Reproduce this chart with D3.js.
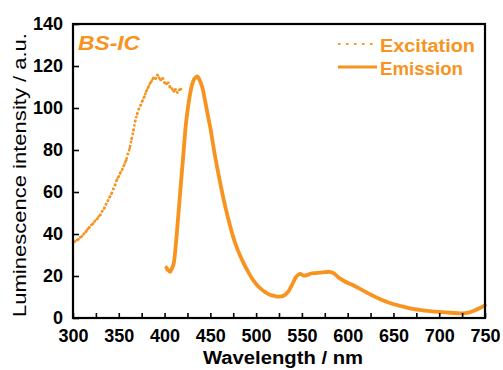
<!DOCTYPE html>
<html>
<head>
<meta charset="utf-8">
<script src="https://cdn.jsdelivr.net/npm/d3@7"></script>
<style>
  html, body { margin: 0; padding: 0; background: #fff; }
  svg { display: block; font-family: "Liberation Sans", Arial, sans-serif; }
</style>
</head>
<body>
<svg id="chart" width="503" height="370"></svg>
<script>
// Excitation spectrum (wavelength nm, intensity a.u.), sampled every 2 nm
const excitationWavelength = [300,302,304,306,308,310,312,314,316,318,320,322,324,326,328,330,332,334,336,338,
  340,342,344,346,348,350,352,354,356,358,360,362,364,366,368,370,372,374,376,378,
  380,382,384,386,388,390,392,394,396,398,400,402,404,406,408,410,412,414,416,418];
const excitationIntensity = [36.0,36.4,37.0,37.5,38.4,39.0,40.1,41.0,42.3,43.2,44.3,45.0,46.2,47.0,48.3,49.2,50.9,52.2,54.1,55.7,
  57.5,59.2,61.4,63.4,65.9,67.5,69.4,70.9,73.1,75.1,78.1,81.0,85.2,89.4,93.9,97.1,99.6,101.4,103.6,105.5,
  107.9,109.7,111.6,112.9,114.4,113.9,115.7,114.4,113.3,114.1,112.1,111.4,112.0,109.9,109.3,107.9,108.9,107.4,108.6,109.0];

// Emission spectrum (wavelength nm, intensity a.u.)
const emissionWavelength = [402,404,406,408,410,412,414,416,418,420,422,424,426,428,430,432,434,436,438,440,
  442,444,446,448,450,455,460,465,470,475,480,485,490,495,500,505,510,515,520,525,
  530,535,540,544,548,552,556,560,565,570,575,580,585,590,597,605,612,618,625,635,
  647,658,668,680,690,700,712,725,732,738,744,750];
const emissionIntensity = [24.0,22.8,22.0,23.5,26.0,33.5,43.5,54.0,65.0,75.0,86.0,95.0,101.5,107.0,111.0,113.5,114.5,115.0,113.5,111.5,
  108.5,104.0,99.5,95.0,90.5,77.5,66.0,55.5,46.5,38.5,32.3,27.3,23.0,19.2,16.2,14.0,12.3,11.1,10.5,10.2,
  10.6,12.5,16.5,19.8,21.0,20.2,20.5,21.2,21.4,21.6,21.8,22.0,21.3,19.3,17.4,15.8,14.2,12.8,11.2,9.0,
  7.0,5.7,4.6,3.8,3.3,2.9,2.5,2.2,2.6,3.5,4.6,6.0];

// Axis ticks and labels
const xTicks = d3.range(300, 751, 25);
const xTickLabels = [300,350,400,450,500,550,600,650,700,750];
const yTickLabels = [0,20,40,60,80,100,120,140];

const seriesNames = ["Excitation", "Emission"];
const sampleName = "BS-IC";

const orange = "#f7931e";
const svg = d3.select("#chart");

const x = d3.scaleLinear().domain([300, 750]).range([73, 485]);
const y = d3.scaleLinear().domain([0, 140]).range([318, 24]);

const line = d3.line().x(d => x(d[0])).y(d => y(d[1])).curve(d3.curveCatmullRom.alpha(0.5));

// Emission: solid line
const emission = emissionWavelength.map((w, i) => [w, emissionIntensity[i]]);
svg.append("path")
  .datum(emission)
  .attr("fill", "none")
  .attr("stroke", orange)
  .attr("stroke-width", 3.8)
  .attr("stroke-linejoin", "round")
  .attr("stroke-linecap", "round")
  .attr("d", line);

// Excitation: dotted trace plus sample points
const excitation = excitationWavelength.map((w, i) => [w, excitationIntensity[i]]);
svg.append("path")
  .datum(excitation)
  .attr("fill", "none")
  .attr("stroke", orange)
  .attr("stroke-width", 2.4)
  .attr("stroke-dasharray", "2.4,1.8")
  .attr("d", line);
svg.append("g")
  .selectAll("circle")
  .data(excitation)
  .join("circle")
  .attr("cx", d => x(d[0]))
  .attr("cy", d => y(d[1]))
  .attr("r", 1.3)
  .attr("fill", orange);

// Axes with inward ticks
const xAxis = d3.axisBottom(x)
  .tickValues(xTicks)
  .tickSizeInner(-5)
  .tickSizeOuter(0)
  .tickPadding(11.3)
  .tickFormat(d => xTickLabels.includes(d) ? d : "");
const gx = svg.append("g").attr("transform", "translate(0,318)").call(xAxis);

const yAxis = d3.axisLeft(y)
  .tickValues(yTickLabels)
  .tickSizeInner(-6)
  .tickSizeOuter(0)
  .tickPadding(10)
  .tickFormat(d3.format("d"));
const gy = svg.append("g").attr("transform", "translate(73,0)").call(yAxis);

[gx, gy].forEach(g => {
  g.select(".domain").remove();
  g.selectAll(".tick line").attr("stroke", "#000").attr("stroke-width", 1.6);
  g.selectAll(".tick text")
    .attr("fill", "#000")
    .style("font-size", "18px")
    .style("font-weight", "bold")
    .style("font-family", "'Liberation Sans', Arial, sans-serif");
});

// Frame
svg.append("rect")
  .attr("x", x(300)).attr("y", y(140))
  .attr("width", x(750) - x(300)).attr("height", y(0) - y(140))
  .attr("fill", "none")
  .attr("stroke", "#000")
  .attr("stroke-width", 2.2);

// Axis titles
svg.append("text")
  .attr("x", 283).attr("y", 364)
  .attr("text-anchor", "middle")
  .attr("textLength", 160).attr("lengthAdjust", "spacingAndGlyphs")
  .style("font-size", "18px").style("font-weight", "bold")
  .text("Wavelength / nm");

svg.append("text")
  .attr("transform", "translate(25.5,175) rotate(-90)")
  .attr("text-anchor", "middle")
  .attr("textLength", 284).attr("lengthAdjust", "spacingAndGlyphs")
  .style("font-size", "18px")
  .text("Luminescence intensity / a.u.");

// Sample label
svg.append("text")
  .attr("x", 78).attr("y", 50)
  .attr("textLength", 62).attr("lengthAdjust", "spacingAndGlyphs")
  .attr("fill", orange)
  .style("font-size", "19.5px").style("font-weight", "bold").style("font-style", "italic")
  .text(sampleName);

// Legend
const legend = svg.append("g");
legend.append("line")
  .attr("x1", 338).attr("x2", 377).attr("y1", 44).attr("y2", 44)
  .attr("stroke", orange).attr("stroke-width", 2)
  .attr("stroke-dasharray", "2.5,5.5");
legend.append("line")
  .attr("x1", 338).attr("x2", 377).attr("y1", 67).attr("y2", 67)
  .attr("stroke", orange).attr("stroke-width", 3);
legend.append("text")
  .attr("x", 380).attr("y", 52)
  .attr("textLength", 95).attr("lengthAdjust", "spacingAndGlyphs")
  .attr("fill", orange)
  .style("font-size", "18px").style("font-weight", "bold")
  .text(seriesNames[0]);
legend.append("text")
  .attr("x", 380).attr("y", 75)
  .attr("textLength", 83).attr("lengthAdjust", "spacingAndGlyphs")
  .attr("fill", orange)
  .style("font-size", "18px").style("font-weight", "bold")
  .text(seriesNames[1]);
</script>
</body>
</html>
